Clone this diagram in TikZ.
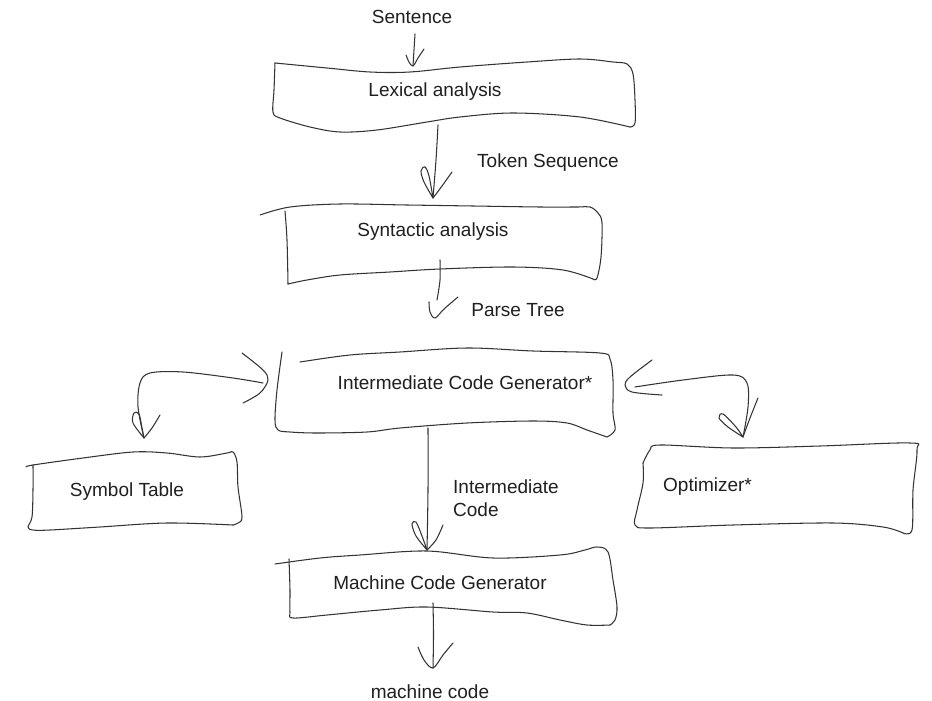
\documentclass[tikz,border=0pt]{standalone}
\usepackage{fontspec}
\setmainfont{Liberation Sans}
\begin{document}
\begin{tikzpicture}[x=1pt,y=-1pt]
\tikzset{
  pen/.style={draw=black!80, line width=1.05pt, line cap=round, line join=round},
  txt/.style={font=\fontsize{19}{23}\selectfont, text=black!88, inner sep=0pt},
  sm/.style={smooth, tension=0.55}
}
\useasboundingbox (0,0) rectangle (932,701);

% ---------- text ----------
\node[txt] (sentence) at (412,17) {Sentence};
\node[txt] (lex) at (435,92) {Lexical analysis};
\node[txt] (tokseq) at (548,163) {Token Sequence};
\node[txt] (syn) at (433,232) {Syntactic analysis};
\node[txt] (ptree) at (518,310) {Parse Tree};
\node[txt] (icg) at (465,383) {Intermediate Code Generator*};
\node[txt] (symtab) at (127,492) {Symbol Table};
\node[txt, anchor=west, align=left] (icode) at (453,498) {Intermediate\\Code};
\node[txt, anchor=west] (opt) at (663,487) {Optimizer*};
\node[txt] (mcg) at (440,583) {Machine Code Generator};
\node[txt] (mcode) at (430,692) {machine code};

% ---------- sketched boxes ----------
% Lexical analysis
\draw[pen] plot[sm] coordinates {(275,63) (327,68) (370,72) (410,72) (460,67) (527,62) (580,59) (613,62) (627,64) (633,74) (635,100) (635,123) (630,127)};
\draw[pen] plot[sm] coordinates {(630,127) (580,117) (513,113) (460,117) (427,122) (377,130) (340,132) (310,127) (280,118) (273,112) (274,90) (275,63)};
% Syntactic analysis
\draw[pen] plot[sm] coordinates {(260,215) (290,207) (340,204) (407,205) (473,206) (540,207) (577,207) (590,207) (598,213) (602,223) (601,257) (597,278) (593,279)};
\draw[pen] plot[sm] coordinates {(593,279) (563,270) (513,267) (440,269) (390,272) (340,275) (307,280) (288,284)};
\draw[pen] plot[sm] coordinates {(285,211) (287,240) (288,284)};
% Intermediate Code Generator
\draw[pen] plot[sm] coordinates {(300,362) (350,355) (400,352) (467,348) (533,351) (600,353) (610,359) (613,380) (613,413) (615,430) (607,437)};
\draw[pen] plot[sm] coordinates {(607,437) (587,430) (567,423) (533,421) (467,423) (400,428) (367,432) (317,433) (290,432) (278,430) (275,420) (277,390) (282,352)};
% Symbol Table
\draw[pen] plot[sm] coordinates {(26,467) (33,465) (83,458) (133,452) (167,453) (200,457) (227,453) (233,452) (237,462) (238,487) (242,517) (238,523) (233,525)};
\draw[pen] plot[sm] coordinates {(233,525) (167,523) (100,527) (50,530) (33,530) (28,527) (32,517) (33,490) (33,465)};
% Optimizer*
\draw[pen] plot[sm] coordinates {(643,463) (650,450) (660,445) (733,448) (820,446) (910,443) (917,450) (913,490) (912,530) (903,533)};
\draw[pen] plot[sm] coordinates {(903,533) (883,527) (833,523) (733,525) (650,528) (635,525) (637,510) (643,483) (643,463)};
% Machine Code Generator
\draw[pen] plot[sm] coordinates {(275,564) (320,558) (360,555) (427,551) (493,558) (560,555) (585,550) (597,547) (608,552) (613,580) (617,607) (615,620) (610,625)};
\draw[pen] plot[sm] coordinates {(610,625) (587,625) (560,620) (527,613) (493,612) (427,607) (380,610) (327,615) (293,618) (290,612) (290,590) (289,559)};

% ---------- connectors ----------
% Sentence -> Lexical analysis
\coordinate (a1s) at (415,34);
\coordinate (a1t) at (413,66);
\draw[pen] plot[sm] coordinates {(a1s) (414,50) (a1t)};
\draw[pen] plot[sm] coordinates {(406,55) (409,62) (a1t) (418,58) (424,49)};

% Lexical analysis -> Syntactic analysis
\coordinate (a2s) at (438,125);
\coordinate (a2t) at (433,198);
\draw[pen] plot[sm] coordinates {(a2s) (436,160) (a2t)};
\draw[pen] plot[sm] coordinates {(a2t) (424,182) (421,171) (425,167) (429,176) (a2t)};
\draw[pen] plot[sm] coordinates {(a2t) (442,186) (452,172)};

% Syntactic analysis -> Intermediate Code Generator
\coordinate (a3s) at (440,260);
\coordinate (a3t) at (435,318);
\draw[pen] plot[sm] coordinates {(a3s) (440,280) (437,300)};
\draw[pen] plot[sm] coordinates {(429,302) (430,312) (a3t) (444,309) (458,297)};

% Intermediate Code Generator -> Symbol Table
\coordinate (a4s) at (263,383);
\coordinate (a4t) at (144,438);
\draw[pen] plot[sm] coordinates {(242,353) (263,370) (268,380) (260,393) (243,403)};
\draw[pen] plot[sm] coordinates {(a4s) (233,378) (183,372) (150,373) (140,383) (138,407) (a4t)};
\draw[pen] plot[sm] coordinates {(a4t) (133,423) (134,413) (139,414) (142,428) (a4t)};
\draw[pen] plot[sm] coordinates {(a4t) (152,428) (160,415)};

% Intermediate Code Generator -> Optimizer*
\coordinate (a5s) at (635,387);
\coordinate (a5t) at (743,437);
\draw[pen] plot[sm] coordinates {(652,360) (630,377) (625,385) (632,392) (662,395)};
\draw[pen] plot[sm] coordinates {(a5s) (683,380) (733,375) (747,383) (748,407) (a5t)};
\draw[pen] plot[sm] coordinates {(a5t) (728,427) (719,418) (723,414) (736,427) (a5t)};
\draw[pen] plot[sm] coordinates {(a5t) (750,418) (758,398)};

% Intermediate Code Generator -> Machine Code Generator
\coordinate (a6s) at (428,428);
\coordinate (a6t) at (427,550);
\draw[pen] plot[sm] coordinates {(a6s) (428,490) (a6t)};
\draw[pen] plot[sm] coordinates {(a6t) (416,536) (412,524) (416,522) (422,536) (a6t)};
\draw[pen] plot[sm] coordinates {(a6t) (436,540) (443,525)};

% Machine Code Generator -> machine code
\coordinate (a7s) at (433,603);
\coordinate (a7t) at (433,668);
\draw[pen] plot[sm] coordinates {(a7s) (433.5,635) (a7t)};
\draw[pen] plot[sm] coordinates {(418,647) (424,660) (a7t) (443,655) (453,643)};
\end{tikzpicture}
\end{document}
